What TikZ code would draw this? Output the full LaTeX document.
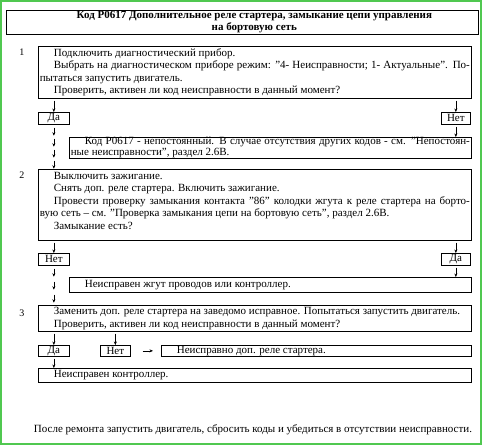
\documentclass[tikz,border=0pt]{standalone}
\usepackage{fontspec}
\setmainfont{Liberation Serif}
\usetikzlibrary{arrows.meta}
\definecolor{frame}{RGB}{80,200,80}
\newcommand{\ind}{\hspace*{14pt}}

\begin{document}
\begin{tikzpicture}
[x=1pt, y=-1pt,
 box/.style={draw, line width=0.7pt, anchor=north west, inner xsep=1.5pt, inner ysep=0pt, align=justify, font=\fontsize{11}{12.5}\selectfont},
 ans/.style={draw, line width=0.7pt, anchor=north west, minimum width=31pt, minimum height=12pt, inner sep=0pt, font=\fontsize{11}{12}\selectfont},
 arr/.style={-{Stealth[length=3.5pt,width=3pt]}, line width=0.5pt}]
\useasboundingbox (0,0) rectangle (482,445);
\draw [frame, line width=2pt] (1,1) rectangle (481,444);

% title
\node [draw, line width=0.7pt, anchor=north west, minimum width=472pt, minimum height=24pt] (title) at (6,10) {};
\node [align=center, font=\bfseries\fontsize{11}{12}\selectfont] (titletext) at ([xshift=12pt]title.center)
{Код P0617 Дополнительное реле стартера, замыкание цепи управления\\на бортовую сеть};

% step 1
\node (n1) at (22,52) {1};
\node [box, text width=430pt, minimum height=52pt] (box1) at (38,46)
{\ind Подключить диагностический прибор.\par
\ind Выбрать на диагностическом приборе режим: "4- Неисправности; 1- Актуальные". По-\linebreak
пытаться запустить двигатель.\par
\ind Проверить, активен ли код неисправности в данный момент?};
\node [ans] (da1) at (38,112) {Да};
\node [ans, minimum width=29pt] (net1) at (441,112) {Нет};
\node [box, text width=399pt, minimum height=19pt, font=\fontsize{11}{11}\selectfont] (intermit) at (69,137)
{\ind Код P0617 - непостоянный. В случае отсутствия других кодов - см. "Непостоян-\linebreak
ные неисправности", раздел 2.6В.};

\draw [arr, shorten <=2pt] (da1.north |- box1.south) -- (da1.north);
\draw [arr, shorten <=2pt] (net1.north |- box1.south) -- (net1.north);
\draw [arr, shorten <=2pt] (net1.south) -- (net1.south |- intermit.north);
\foreach \y in {3,14,25,36}
  \draw [arr] ([yshift=-\y pt]da1.south) -- ++(0,8);

% step 2
\node (n2) at (22,175) {2};
\node [box, text width=430pt, minimum height=71pt] (box2) at (38,169)
{\ind Выключить зажигание.\par
\ind Снять доп. реле стартера. Включить зажигание.\par
\ind Провести проверку замыкания контакта "86" колодки жгута к реле стартера на борто-\linebreak
вую сеть – см. "Проверка замыкания цепи на бортовую сеть", раздел 2.6В.\par
\ind Замыкание есть?\par\vspace{-4pt}\mbox{}};
\node [ans] (net2) at (38,253) {Нет};
\node [ans, minimum width=29pt] (da2) at (441,253) {Да};
\node [box, text width=399pt, minimum height=15pt] (harness) at (69,277)
{\ind Неисправен жгут проводов или контроллер.};

\draw [arr, shorten <=2pt] (net2.north |- box2.south) -- (net2.north);
\draw [arr, shorten <=2pt] (da2.north |- box2.south) -- (da2.north);
\draw [arr, shorten <=2pt] (da2.south) -- (da2.south |- harness.north);
\foreach \y in {3,16,29}
  \draw [arr] ([yshift=-\y pt]net2.south) -- ++(0,8);

% step 3
\node (n3) at (22,313) {3};
\node [box, text width=430pt, minimum height=26pt] (box3) at (38,305)
{\ind Заменить доп. реле стартера на заведомо исправное. Попытаться запустить двигатель.\par
\ind Проверить, активен ли код неисправности в данный момент?};
\node [ans, minimum height=11pt] (da3) at (38,345) {Да};
\node [ans, minimum width=30pt, minimum height=11pt] (net3) at (100,345) {Нет};
\node [box, text width=307pt, minimum height=11pt] (relay) at (161,345)
{\ind Неисправно доп. реле стартера.};
\node [box, text width=430pt, minimum height=14pt] (ctrl) at (38,368)
{\ind Неисправен контроллер.};

\draw [arr, shorten <=2pt] (da3.north |- box3.south) -- (da3.north);
\draw [arr, shorten <=2pt] (net3.north |- box3.south) -- (net3.north);
\draw [arr, shorten <=12pt, shorten >=8pt] (net3.east) -- (relay.west);
\draw [arr, shorten <=2pt] (da3.south) -- (da3.south |- ctrl.north);

\node [font=\fontsize{11}{12}\selectfont] (final) at (253,430)
{После ремонта запустить двигатель, сбросить коды и убедиться в отсутствии неисправности.};
\end{tikzpicture}
\end{document}
